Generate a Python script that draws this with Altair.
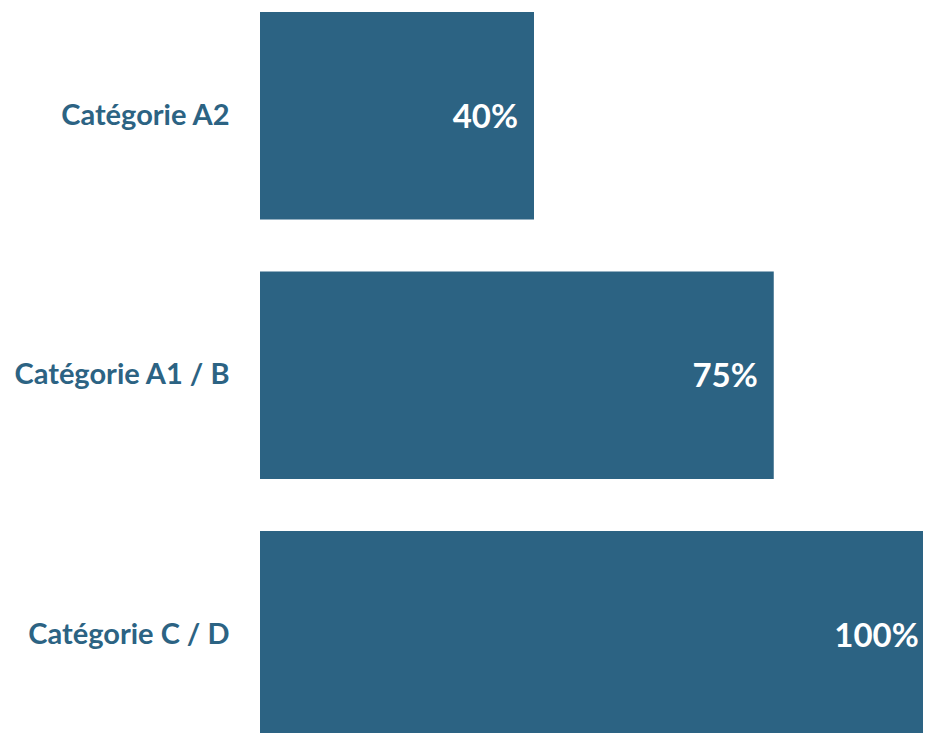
import altair as alt
import pandas as pd

categories = ["Catégorie A2", "Catégorie A1 / B", "Catégorie C / D"]
values = [0.40, 0.75, 1.00]
labels = ["40%", "75%", "100%"]

df = pd.DataFrame({"cat": categories, "val": values, "lab": labels})

color = "#2c6383"
font = "Lato"

y = alt.Y("cat:N", sort=categories, title=None,
          scale=alt.Scale(paddingInner=0.2, paddingOuter=0, range=[4, 730.6]),
          axis=alt.Axis(domain=False, ticks=False, labelFont=font, labelFontSize=29,
                        labelFontWeight="bold", labelColor=color, labelPadding=31,
                        labelLimit=400))
xscale = alt.Scale(domain=[0, 1], range=[0, 685], nice=False)
x = alt.X("val:Q", title=None, axis=None, scale=xscale)

bars = alt.Chart(df).mark_bar(color=color, clip=True).encode(x=x, y=y)
text = alt.Chart(df).transform_calculate(
    tx="min(datum.val, 0.985)"
).mark_text(align="right", baseline="middle", dx=-16, dy=2,
            font=font, fontSize=33, fontWeight="bold",
            color="white").encode(x=alt.X("tx:Q", title=None, axis=None, scale=xscale),
                                  y=y, text="lab:N")

chart = (bars + text).properties(
    width=663, height=725,
    autosize=alt.AutoSizeParams(type="none"),
    padding={"left": 252, "top": 0, "right": 0, "bottom": 0},
).configure_view(stroke=None)

chart.save("out.html", embed_options={"renderer": "svg", "actions": False})
